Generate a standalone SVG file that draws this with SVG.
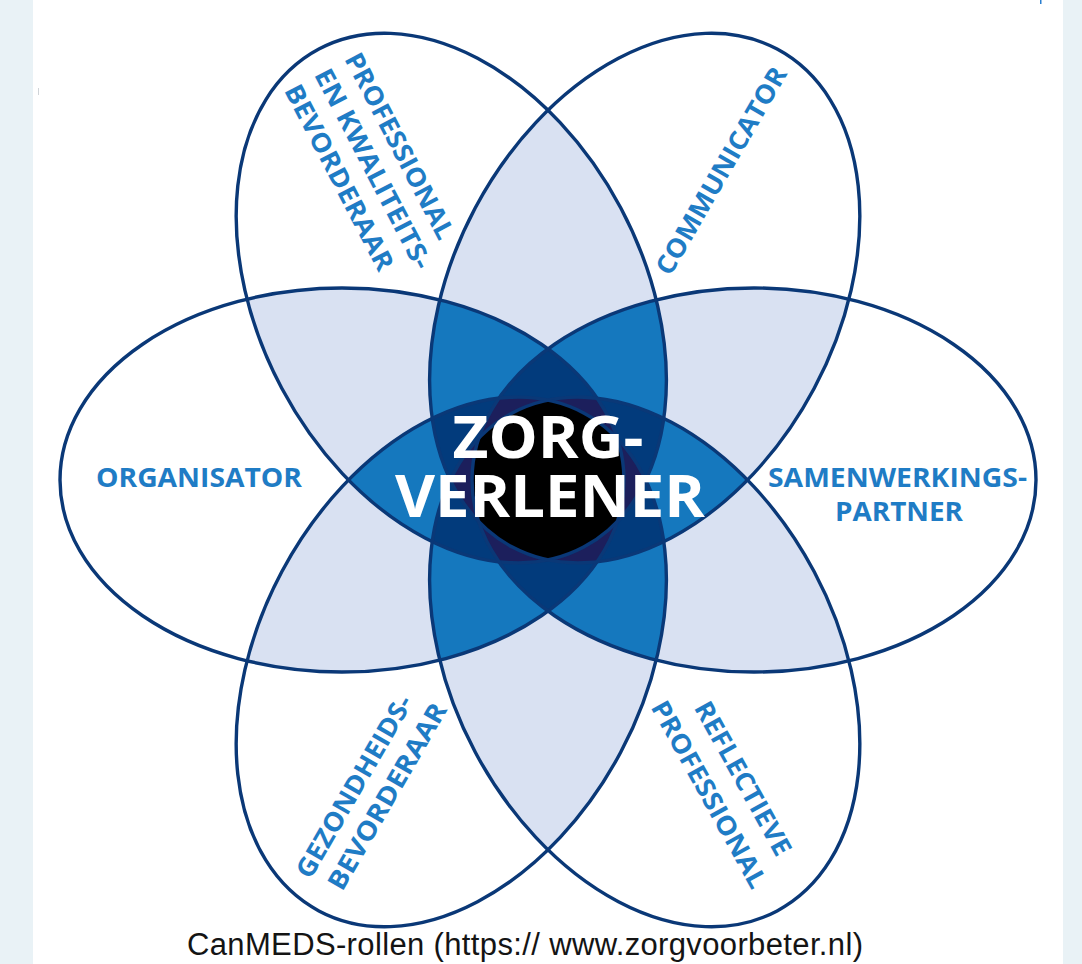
<svg xmlns="http://www.w3.org/2000/svg" width="1082" height="964" viewBox="0 0 1082 964">
<style>
.outline{fill:none;stroke:#0a3877;stroke-width:3.4}
.lbl{font-family:"Open Sans","DejaVu Sans",sans-serif;font-weight:700;font-size:26px;fill:#1f7cc5}
.ctr{font-family:"Open Sans","DejaVu Sans",sans-serif;font-weight:700;font-size:59px;fill:#ffffff;text-anchor:middle}
.cap{font-family:"Liberation Sans",Arial,sans-serif;font-size:31px;fill:#141414;text-anchor:middle}
</style>
<defs>
<ellipse id="e1" cx="342" cy="480" rx="282" ry="192"/>
<ellipse id="e2" cx="451.29" cy="298.11" rx="282" ry="192" transform="rotate(62 451.29 298.11)"/>
<ellipse id="e3" cx="644.71" cy="298.11" rx="282" ry="192" transform="rotate(-62 644.71 298.11)"/>
<ellipse id="e4" cx="754" cy="480" rx="282" ry="192"/>
<ellipse id="e5" cx="644.71" cy="661.89" rx="282" ry="192" transform="rotate(62 644.71 661.89)"/>
<ellipse id="e6" cx="451.29" cy="661.89" rx="282" ry="192" transform="rotate(-62 451.29 661.89)"/>
<clipPath id="k1"><use href="#e1"/></clipPath>
<clipPath id="k2"><use href="#e2"/></clipPath>
<clipPath id="k3"><use href="#e3"/></clipPath>
<clipPath id="k4"><use href="#e4"/></clipPath>
<clipPath id="k5"><use href="#e5"/></clipPath>
</defs>
<rect x="0" y="0" width="1082" height="964" fill="#e9f2f6"/>
<rect x="33" y="0" width="1030" height="964" fill="#ffffff"/>
<rect x="1040" y="0" width="1.5" height="4" fill="#2a7fd0"/>
<rect x="38" y="88" width="1" height="7" fill="#d0d4d8"/>
<g id="overlaps">
<g fill="#d9e1f2">
<g clip-path="url(#k1)"><use href="#e2"/><use href="#e3"/><use href="#e4"/><use href="#e5"/><use href="#e6"/></g>
<g clip-path="url(#k2)"><use href="#e3"/><use href="#e4"/><use href="#e5"/><use href="#e6"/></g>
<g clip-path="url(#k3)"><use href="#e4"/><use href="#e5"/><use href="#e6"/></g>
<g clip-path="url(#k4)"><use href="#e5"/><use href="#e6"/></g>
<g clip-path="url(#k5)"><use href="#e6"/></g>
</g>
<g fill="#1578be">
<g clip-path="url(#k1)">
<g clip-path="url(#k2)"><use href="#e3"/><use href="#e4"/><use href="#e5"/><use href="#e6"/></g>
<g clip-path="url(#k3)"><use href="#e4"/><use href="#e5"/><use href="#e6"/></g>
<g clip-path="url(#k4)"><use href="#e5"/><use href="#e6"/></g>
<g clip-path="url(#k5)"><use href="#e6"/></g>
</g>
<g clip-path="url(#k2)">
<g clip-path="url(#k3)"><use href="#e4"/><use href="#e5"/><use href="#e6"/></g>
<g clip-path="url(#k4)"><use href="#e5"/><use href="#e6"/></g>
<g clip-path="url(#k5)"><use href="#e6"/></g>
</g>
<g clip-path="url(#k3)">
<g clip-path="url(#k4)"><use href="#e5"/><use href="#e6"/></g>
<g clip-path="url(#k5)"><use href="#e6"/></g>
</g>
<g clip-path="url(#k4)"><g clip-path="url(#k5)"><use href="#e6"/></g></g>
</g>
<g fill="#023b7c">
<g clip-path="url(#k1)">
<g clip-path="url(#k2)">
<g clip-path="url(#k3)"><use href="#e4"/><use href="#e5"/><use href="#e6"/></g>
<g clip-path="url(#k4)"><use href="#e5"/><use href="#e6"/></g>
<g clip-path="url(#k5)"><use href="#e6"/></g>
</g>
<g clip-path="url(#k3)">
<g clip-path="url(#k4)"><use href="#e5"/><use href="#e6"/></g>
<g clip-path="url(#k5)"><use href="#e6"/></g>
</g>
<g clip-path="url(#k4)"><g clip-path="url(#k5)"><use href="#e6"/></g></g>
</g>
<g clip-path="url(#k2)">
<g clip-path="url(#k3)">
<g clip-path="url(#k4)"><use href="#e5"/><use href="#e6"/></g>
<g clip-path="url(#k5)"><use href="#e6"/></g>
</g>
<g clip-path="url(#k4)"><g clip-path="url(#k5)"><use href="#e6"/></g></g>
</g>
<g clip-path="url(#k3)"><g clip-path="url(#k4)"><g clip-path="url(#k5)"><use href="#e6"/></g></g></g>
</g>
<g fill="#1c1f5c">
<g clip-path="url(#k1)">
<g clip-path="url(#k2)">
<g clip-path="url(#k3)">
<g clip-path="url(#k4)"><use href="#e5"/><use href="#e6"/></g>
<g clip-path="url(#k5)"><use href="#e6"/></g>
</g>
<g clip-path="url(#k4)"><g clip-path="url(#k5)"><use href="#e6"/></g></g>
</g>
<g clip-path="url(#k3)"><g clip-path="url(#k4)"><g clip-path="url(#k5)"><use href="#e6"/></g></g></g>
</g>
<g clip-path="url(#k2)"><g clip-path="url(#k3)"><g clip-path="url(#k4)"><g clip-path="url(#k5)"><use href="#e6"/></g></g></g></g>
</g>
<g fill="#000000">
<g clip-path="url(#k1)"><g clip-path="url(#k2)"><g clip-path="url(#k3)"><g clip-path="url(#k4)"><g clip-path="url(#k5)"><use href="#e6"/></g></g></g></g></g>
</g>
</g>
<g id="node-organisator">
<use href="#e1" class="outline"/>
<text class="lbl" x="199" y="487" text-anchor="middle" textLength="206" lengthAdjust="spacingAndGlyphs">ORGANISATOR</text>
</g>
<g id="node-professional-kwaliteitsbevorderaar">
<use href="#e2" class="outline"/>
<g transform="rotate(62.5)">
<text class="lbl" x="211" y="-278" textLength="206" lengthAdjust="spacingAndGlyphs">PROFESSIONAL</text>
<text class="lbl" x="211" y="-244" textLength="222" lengthAdjust="spacingAndGlyphs">EN KWALITEITS-</text>
<text class="lbl" x="211" y="-210" textLength="206" lengthAdjust="spacingAndGlyphs">BEVORDERAAR</text>
</g>
</g>
<g id="node-communicator">
<use href="#e3" class="outline"/>
<text class="lbl" transform="rotate(-60)" x="212.7" y="719" text-anchor="middle" textLength="235" lengthAdjust="spacingAndGlyphs">COMMUNICATOR</text>
</g>
<g id="node-samenwerkingspartner">
<use href="#e4" class="outline"/>
<text class="lbl" x="897.5" y="487" text-anchor="middle" textLength="259" lengthAdjust="spacingAndGlyphs">SAMENWERKINGS-</text>
<text class="lbl" x="899" y="521" text-anchor="middle" textLength="128" lengthAdjust="spacingAndGlyphs">PARTNER</text>
</g>
<g id="node-reflectieve-professional">
<use href="#e5" class="outline"/>
<g transform="rotate(61)">
<text class="lbl" x="1041" y="-263.5" text-anchor="middle" textLength="172" lengthAdjust="spacingAndGlyphs">REFLECTIEVE</text>
<text class="lbl" x="1038.5" y="-226" text-anchor="middle" textLength="210" lengthAdjust="spacingAndGlyphs">PROFESSIONAL</text>
</g>
</g>
<g id="node-gezondheidsbevorderaar">
<use href="#e6" class="outline"/>
<g transform="rotate(-60)">
<text class="lbl" x="-504" y="709" text-anchor="middle" textLength="206" lengthAdjust="spacingAndGlyphs">GEZONDHEIDS-</text>
<text class="lbl" x="-496" y="742.5" text-anchor="middle" textLength="211" lengthAdjust="spacingAndGlyphs">BEVORDERAAR</text>
</g>
</g>
<g id="node-zorgverlener">
<text class="ctr" x="548" y="458" textLength="191" lengthAdjust="spacingAndGlyphs">ZORG-</text>
<text class="ctr" x="550" y="517" textLength="310" lengthAdjust="spacingAndGlyphs">VERLENER</text>
</g>
<g id="caption">
<text class="cap" x="525" y="955" textLength="676">CanMEDS-rollen (https:// www.zorgvoorbeter.nl)</text>
</g>
</svg>
